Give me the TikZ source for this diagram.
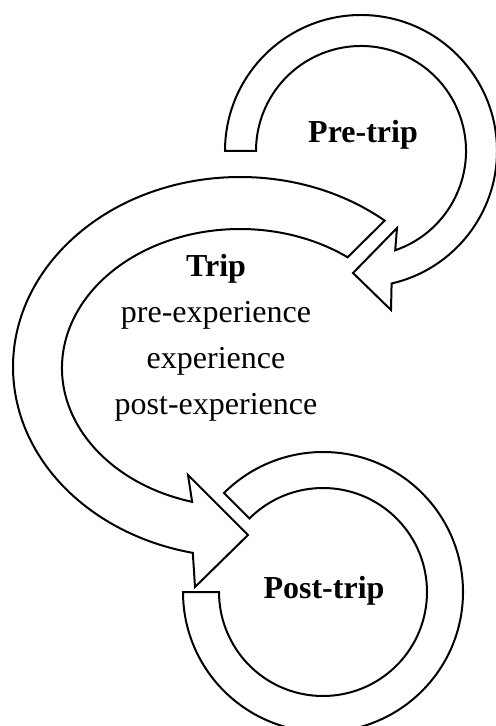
\documentclass[tikz,border=0pt]{standalone}
\usepackage{fontspec}
\setmainfont{Liberation Serif}

\begin{document}
\begin{tikzpicture}[x=0.5pt,y=-0.5pt,
  band/.style={draw,line width=1pt,fill=white,line join=miter},
  phase/.style={font=\fontsize{16}{23}\selectfont\bfseries,anchor=base},
  steps/.style={font=\fontsize{16}{23}\selectfont,align=center}]
\useasboundingbox (0,0) rectangle (496,726);
\clip (0,0) rectangle (496,726);

\draw[band] ([shift={(361,151)}]180:136) arc[start angle=180,end angle=437,radius=136]
  -- (391,310) -- (353,273) -- (397,228)
  -- ([shift={(361,151)}]431:105) arc[start angle=431,end angle=180,radius=105] -- cycle;

\draw[band] ([shift={(240,367)}]-50.4:227 and 190)
  arc[start angle=-50.4,end angle=-258,x radius=227,y radius=190]
  -- (195,587) -- (248,535) -- (188,475)
  -- ([shift={(240,368)}]-254.4:178 and 139)
  arc[start angle=-254.4,end angle=-52.8,x radius=178,y radius=139] -- cycle;

\draw[band] ([shift={(323,592)}]180:140) arc[start angle=180,end angle=-135,radius=140]
  -- ([shift={(323,592)}]-135:104) arc[start angle=-135,end angle=180,radius=104] -- cycle;

\node[phase] (pre) at (363,143) {Pre-trip};
\node[steps] (trip) at (216,338) {\textbf{Trip}\\pre-experience\\experience\\post-experience};
\node[phase] (post) at (324,598) {Post-trip};
\end{tikzpicture}
\end{document}
